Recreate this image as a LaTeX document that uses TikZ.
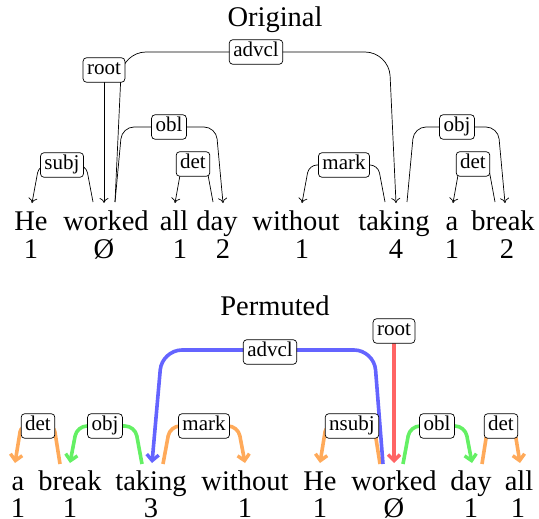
\documentclass[tikz,border=0pt]{standalone}
\usepackage{fontspec}
\setmainfont{Liberation Serif}
\newfontfamily\serifw{LiberationSerif-Regular}[Extension=.ttf]
\usetikzlibrary{arrows.meta}
\definecolor{corange}{RGB}{255,170,90}
\definecolor{cgreen}{RGB}{100,240,100}
\definecolor{cblue}{RGB}{100,100,255}
\definecolor{cred}{RGB}{255,100,100}
\pgfdeclarelayer{bg}
\pgfsetlayers{bg,main}
\begin{document}
\begin{tikzpicture}[x=1pt,y=-1pt,
  word/.style={anchor=base, inner sep=0pt, font=\serifw\fontsize{28.5}{30}\selectfont},
  lab/.style={draw, fill=white, rounded corners=3.5pt, inner xsep=4pt, inner ysep=3pt,
    text height=14pt, text depth=4.5pt, font=\serifw\fontsize{21}{22}\selectfont, line width=0.7pt},
  thinarc/.style={draw, line width=0.7pt, -{To[length=5pt,width=9pt]}},
  thickarc/.style={line width=3.6pt, -{Straight Barb[length=6pt,width=12pt,line width=3.4pt]}},
]
\useasboundingbox (0,0) rectangle (539,519);

% ---------- Titles ----------
\node[word] (t1) at (275,27) {Original};
\node[word] (t2) at (275,315) {Permuted};

% ---------- Original sentence ----------
\node[word] (oHe) at (31,230) {He};
\node[word] (oWorked) at (106,230) {worked};
\node[word] (oAllW) at (174,230) {all};
\node[word] (oDayW) at (217,230) {day};
\node[word] (oWithout) at (296,230) {without};
\node[word] (oTaking) at (394,230) {taking};
\node[word] (oAW) at (452,230) {a};
\node[word] (oBreak) at (503,230) {break};

\node[word] (on1) at (31,258) {1};
\node[word] (on2) at (104,258) {Ø};
\node[word] (on3) at (180,258) {1};
\node[word] (on4) at (223,258) {2};
\node[word] (on5) at (302,258) {1};
\node[word] (on6) at (396,258) {4};
\node[word] (on7) at (452,258) {1};
\node[word] (on8) at (507,258) {2};

% labels (original)
\node[lab] (oSubj) at (62,165) {subj};
\node[lab] (oRoot) at (104,70) {root};
\node[lab] (oAdvcl) at (256,52) {advcl};
\node[lab] (oObl) at (169,127) {obl};
\node[lab] (oDet1) at (193,164) {det};
\node[lab] (oMark) at (344,165) {mark};
\node[lab] (oObj) at (457,127) {obj};
\node[lab] (oDet2) at (473,164) {det};

% endpoints (original)
\coordinate (eWkS) at (93,202);
\coordinate (eHe) at (32,203);
\coordinate (eWkRoot) at (104,203);
\coordinate (eWkR) at (115,202);
\coordinate (eTk) at (396,203);
\coordinate (eDay) at (223,203);
\coordinate (eDayH) at (213,202);
\coordinate (eAll) at (175,203);
\coordinate (eTkL) at (385,202);
\coordinate (eWo) at (302,203);
\coordinate (eTkR) at (407,202);
\coordinate (eBr) at (505,203);
\coordinate (eBrH) at (495,202);
\coordinate (eA) at (453,203);

\begin{pgfonlayer}{bg}
\draw[thinarc, rounded corners=8pt] (eWkS) -- (86,165) -- (39,165) -- (eHe);
\draw[thinarc] (oRoot.center) -- (eWkRoot);
\draw[thinarc, rounded corners=24pt] (eWkR) -- (122,52) -- (389,52) -- (eTk);
\draw[thinarc, rounded corners=12pt] (eWkR) -- (122,127) -- (216,127) -- (eDay);
\draw[thinarc, rounded corners=6pt] (eDayH) -- (206,164) -- (182,164) -- (eAll);
\draw[thinarc, rounded corners=8pt] (eTkL) -- (378,165) -- (309,165) -- (eWo);
\draw[thinarc, rounded corners=12pt] (eTkR) -- (414,127) -- (498,127) -- (eBr);
\draw[thinarc, rounded corners=6pt] (eBrH) -- (488,164) -- (460,164) -- (eA);
\end{pgfonlayer}

% ---------- Permuted sentence ----------
\node[word] (pAW) at (18,490) {a};
\node[word] (pBreak) at (70,490) {break};
\node[word] (pTaking) at (151,490) {taking};
\node[word] (pWithout) at (245,490) {without};
\node[word] (pHe) at (320,490) {He};
\node[word] (pWorked) at (394,490) {worked};
\node[word] (pDayW) at (471,490) {day};
\node[word] (pAllW) at (519,490) {all};

\node[word] (pn1) at (18,517) {1};
\node[word] (pn2) at (70,517) {1};
\node[word] (pn3) at (151,517) {3};
\node[word] (pn4) at (245,517) {1};
\node[word] (pn5) at (320,517) {1};
\node[word] (pn6) at (394,517) {Ø};
\node[word] (pn7) at (471,517) {1};
\node[word] (pn8) at (518,517) {1};

% labels (permuted)
\node[lab] (pDet1) at (38,426) {det};
\node[lab] (pObj) at (105,426) {obj};
\node[lab] (pMark) at (204,426) {mark};
\node[lab] (pAdvcl) at (270,352) {advcl};
\node[lab] (pRoot) at (394,331) {root};
\node[lab] (pNsubj) at (352,426) {nsubj};
\node[lab] (pObl) at (437,426) {obl};
\node[lab] (pDet2) at (501,426) {det};

% endpoints (permuted)
\coordinate (fBrH) at (60,464);
\coordinate (fA) at (15,463);
\coordinate (fTkL) at (142,464);
\coordinate (fBr) at (70,463);
\coordinate (fWkL) at (383,464);
\coordinate (fTk) at (152,463);
\coordinate (fTkR) at (163,464);
\coordinate (fWo) at (245,463);
\coordinate (fWkRoot) at (394,463);
\coordinate (fWkN) at (380,464);
\coordinate (fHe) at (320,463);
\coordinate (fWkR) at (403,464);
\coordinate (fDay) at (472,463);
\coordinate (fDayH) at (482,464);
\coordinate (fAll) at (520,463);

\begin{pgfonlayer}{bg}
\draw[thickarc, corange, rounded corners=6pt] (fBrH) -- (54,426) -- (21,426) -- (fA);
\draw[thickarc, cgreen, rounded corners=10pt] (fTkL) -- (135,426) -- (77,426) -- (fBr);
\draw[thickarc, corange, rounded corners=10pt] (fTkR) -- (170,426) -- (238,426) -- (fWo);
\draw[thickarc, corange, rounded corners=6pt] (fWkN) -- (374,426) -- (326,426) -- (fHe);
\draw[thickarc, cgreen, rounded corners=10pt] (fWkR) -- (410,426) -- (465,426) -- (fDay);
\draw[thickarc, corange, rounded corners=6pt] (fDayH) -- (488,426) -- (514,426) -- (fAll);
\draw[thickarc, cblue, rounded corners=20pt] (fWkL) -- (374,350) -- (162,350) -- (fTk);
\draw[thickarc, cred] (pRoot.center) -- (fWkRoot);
\end{pgfonlayer}
\end{tikzpicture}
\end{document}
